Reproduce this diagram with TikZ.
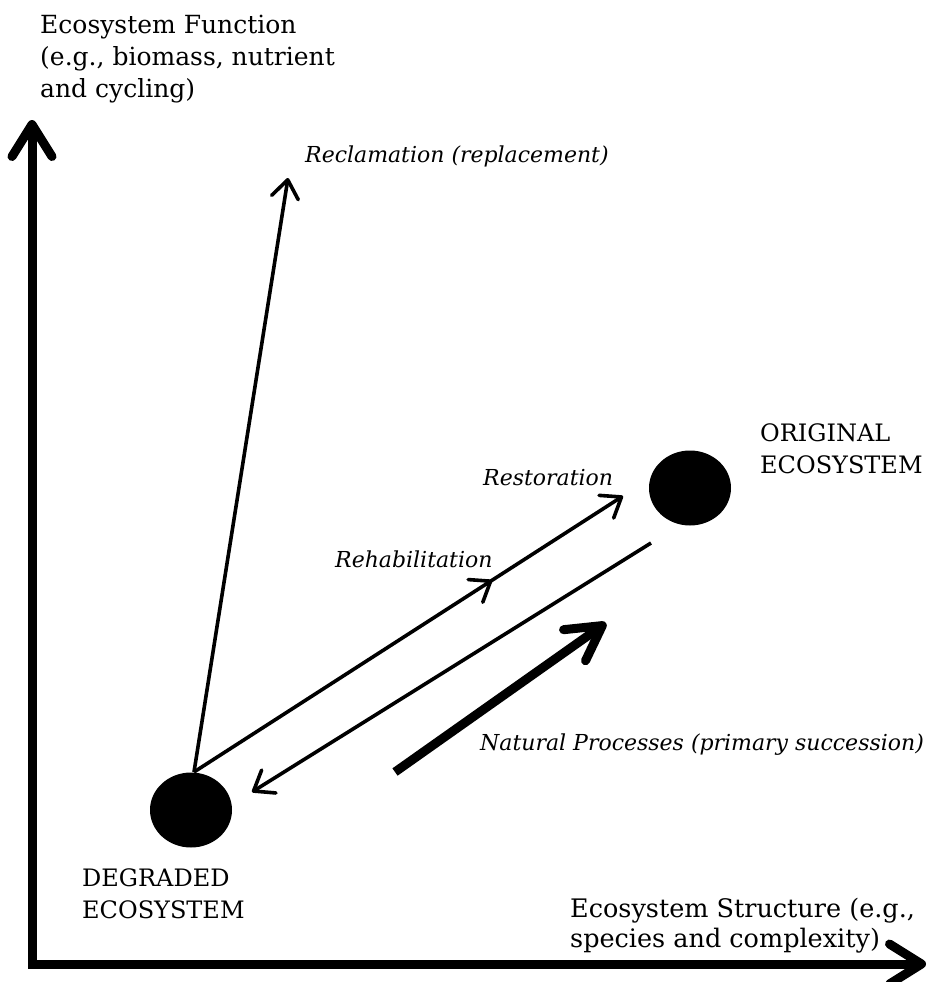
\documentclass[tikz,border=0pt]{standalone}
\usepackage{fontspec}
\setmainfont{DejaVu Serif}
\usetikzlibrary{arrows.meta,shapes.geometric,decorations.markings}

\begin{document}
\begin{tikzpicture}[x=1pt,y=-1pt,
  axisline/.style={line width=9pt, line join=miter,
    {Straight Barb[length=32pt,width=40pt,round]}-{Straight Barb[length=32pt,width=40pt,round]}},
  thinarrow/.style={line width=3.6pt, -{Straight Barb[length=18pt,width=27pt,round]}},
  thickarrow/.style={line width=9pt, -{Straight Barb[length=34pt,width=38pt,round]}},
  midtip/.style={decoration={markings,
    mark=at position #1 with {\arrow{Straight Barb[length=18pt,width=27pt,round]}}},
    postaction={decorate}},
  state/.style={ellipse, fill=black, draw=none, minimum width=82pt, minimum height=75pt, inner sep=0pt},
  % multi-line labels are placed by the baseline of their last line
  label/.style={anchor=base west, align=left, inner sep=0pt,
    font=\fontsize{25}{32}\selectfont},
  italabel/.style={anchor=base west, inner sep=0pt,
    font=\fontsize{22}{28}\selectfont\itshape}
]
\useasboundingbox (0,0) rectangle (928,982);

% axes
\coordinate (ytip) at (32,120);
\coordinate (origin) at (32,964);
\coordinate (xtip) at (926,964);
\draw[axisline] (ytip) -- (origin) -- (xtip);

% ecosystem states
\node[state] (deg) at (191,810) {};
\node[state] (orig) at (690,488) {};

% path end points
\coordinate (degtop) at (194,772);
\coordinate (rectip) at (288,178);
\coordinate (restip) at (623,496);
\coordinate (backstart) at (651,543);
\coordinate (backtip) at (252,792);
\coordinate (natstart) at (395,772);
\coordinate (nattip) at (606,623);

% trajectories
\draw[thinarrow] (degtop) -- (rectip);
\draw[thinarrow, midtip=0.695] (degtop) -- (restip);
\draw[thinarrow] (backstart) -- (backtip);
\draw[thickarrow] (natstart) -- (nattip);

% axis titles
\node[label] (ylab) at (40,97) {Ecosystem Function\\(e.g., biomass, nutrient\\and cycling)};
\node[label, font=\fontsize{25.5}{30}\selectfont] (xlab) at (570,947) {Ecosystem Structure (e.g.,\\species and complexity)};

% state labels
\node[label, font=\fontsize{24}{32}\selectfont] (deglab) at (82,918) {DEGRADED\\ECOSYSTEM};
\node[label, font=\fontsize{24}{32}\selectfont] (origlab) at (760,473) {ORIGINAL\\ECOSYSTEM};

% trajectory labels
\node[italabel] (reclab) at (305,162) {Reclamation (replacement)};
\node[italabel] (reslab) at (483,485) {Restoration};
\node[italabel] (rehlab) at (335,567) {Rehabilitation};
\node[italabel] (natlab) at (480,750) {Natural Processes (primary succession)};
\end{tikzpicture}
\end{document}
